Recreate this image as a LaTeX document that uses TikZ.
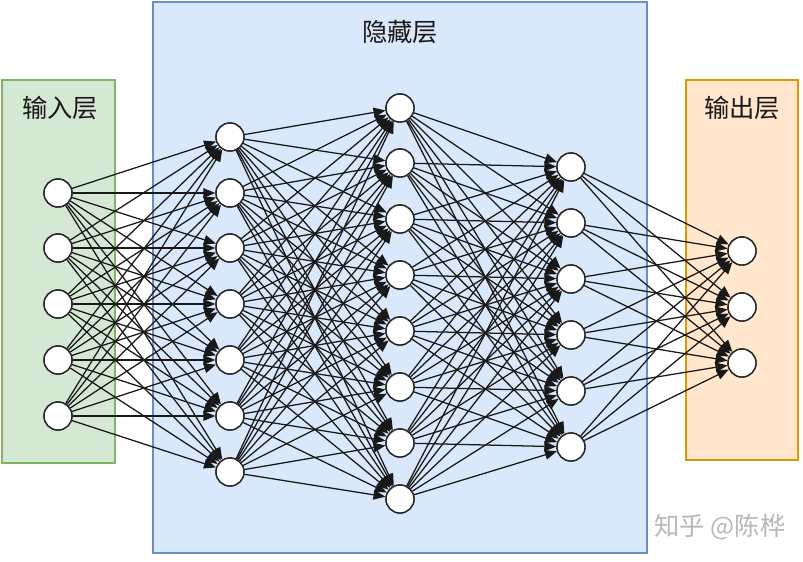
\documentclass[tikz,border=0pt]{standalone}
\usepackage{fontspec}
\newfontfamily\cjk{Noto Sans CJK SC}
\usetikzlibrary{arrows.meta}
\definecolor{inFill}{HTML}{D5E8D4}
\definecolor{inDraw}{HTML}{82B366}
\definecolor{hidFill}{HTML}{DAE8FC}
\definecolor{hidDraw}{HTML}{6C8EBF}
\definecolor{outFill}{HTML}{FFE6CC}
\definecolor{outDraw}{HTML}{D79B00}
\tikzset{
  neuron/.style={circle, draw=black!85, fill=white, line width=1pt, minimum size=0.7cm, inner sep=0pt},
  conn/.style={-{Triangle[length=0.3cm,width=0.24cm]}, line width=0.9pt, black!90},
  layerlabel/.style={font=\cjk\fontsize{18}{21}\selectfont, text=black!90}
}

\begin{document}
\begin{tikzpicture}[x=0.025cm, y=-0.025cm]
\useasboundingbox (0,0) rectangle (803,561);
\fill[white] (0,0) rectangle (803,561);

% layer boxes
\draw[fill=inFill, draw=inDraw, line width=0.8pt] (2,80) rectangle (115,463);
\draw[fill=hidFill, draw=hidDraw, line width=0.8pt] (153,2) rectangle (647,553);
\draw[fill=outFill, draw=outDraw, line width=0.8pt] (686,80) rectangle (798,460);

\node[layerlabel] (inLabel) at (60,108) {输入层};
\node[layerlabel] (hidLabel) at (400,32) {隐藏层};
\node[layerlabel] (outLabel) at (742,108) {输出层};

% neurons
\foreach \y [count=\k] in {193,248,304,360,416}
  \node[neuron] (a\k) at (58,\y) {};
\foreach \y [count=\k] in {137,193,248,304,360,416,472}
  \node[neuron] (b\k) at (230,\y) {};
\foreach \y [count=\k] in {108,163,219,275,331,387,443,499}
  \node[neuron] (c\k) at (400,\y) {};
\foreach \y [count=\k] in {167,223,279,335,391,447}
  \node[neuron] (d\k) at (571,\y) {};
\foreach \y [count=\k] in {251,307,363}
  \node[neuron] (e\k) at (742,\y) {};

% connections
\foreach \i in {1,...,5}
  \foreach \j in {1,...,7}
    \draw[conn] (a\i) -- (b\j);
\foreach \i in {1,...,7}
  \foreach \j in {1,...,8}
    \draw[conn] (b\i) -- (c\j);
\foreach \i in {1,...,8}
  \foreach \j in {1,...,6}
    \draw[conn] (c\i) -- (d\j);
\foreach \i in {1,...,6}
  \foreach \j in {1,...,3}
    \draw[conn] (d\i) -- (e\j);

% redraw neurons on top of the lines
\foreach \k in {1,...,5} \node[neuron] at (a\k) {};
\foreach \k in {1,...,7} \node[neuron] at (b\k) {};
\foreach \k in {1,...,8} \node[neuron] at (c\k) {};
\foreach \k in {1,...,6} \node[neuron] at (d\k) {};
\foreach \k in {1,...,3} \node[neuron] at (e\k) {};

\node[font=\cjk\fontsize{18}{21}\selectfont, text=black!28] (mark) at (720,527) {知乎 @陈桦};
\end{tikzpicture}
\end{document}
